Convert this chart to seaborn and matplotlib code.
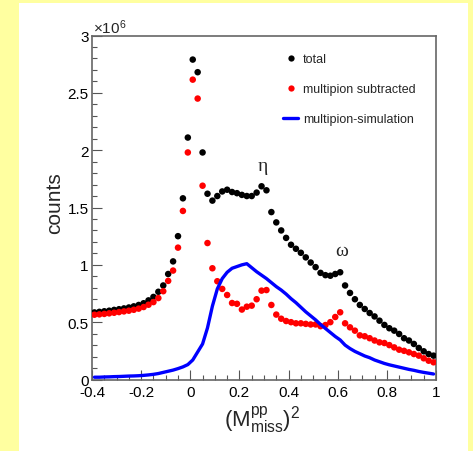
import numpy as np
import pandas as pd
import matplotlib
matplotlib.use('Agg')
import matplotlib.pyplot as plt
import seaborn as sns
from matplotlib.patches import Rectangle
from matplotlib.lines import Line2D
from matplotlib.ticker import FixedLocator, FixedFormatter, MultipleLocator

# ---------------- data (counts in units of 10^6) ----------------
x_bins = [-0.39, -0.37, -0.35, -0.33, -0.31, -0.29, -0.27, -0.25, -0.23, -0.21,
          -0.19, -0.17, -0.15, -0.13, -0.11, -0.09, -0.07, -0.05, -0.03, -0.01,
          0.01, 0.03, 0.05, 0.07, 0.09, 0.11, 0.13, 0.15, 0.17, 0.19,
          0.21, 0.23, 0.25, 0.27, 0.29, 0.31, 0.33, 0.35, 0.37, 0.39,
          0.41, 0.43, 0.45, 0.47, 0.49, 0.51, 0.53, 0.55, 0.57, 0.59,
          0.61, 0.63, 0.65, 0.67, 0.69, 0.71, 0.73, 0.75, 0.77, 0.79,
          0.81, 0.83, 0.85, 0.87, 0.89, 0.91, 0.93, 0.95, 0.97, 0.99]

total = [0.585, 0.59, 0.595, 0.60, 0.607, 0.613, 0.62, 0.628, 0.638, 0.65,
         0.665, 0.69, 0.72, 0.765, 0.82, 0.92, 1.03, 1.25, 1.58, 2.11,
         2.79, 2.68, 1.98, 1.62, 1.56, 1.60, 1.64, 1.655, 1.635, 1.625,
         1.61, 1.60, 1.60, 1.63, 1.685, 1.65, 1.46, 1.37, 1.30, 1.235,
         1.175, 1.14, 1.105, 1.065, 1.02, 0.98, 0.93, 0.91, 0.905, 0.92,
         0.935, 0.82, 0.755, 0.70, 0.65, 0.615, 0.58, 0.55, 0.513, 0.476,
         0.447, 0.426, 0.397, 0.36, 0.34, 0.31, 0.275, 0.246, 0.222, 0.208]

subtracted = [0.565, 0.568, 0.572, 0.577, 0.582, 0.588, 0.594, 0.60, 0.608, 0.618,
              0.632, 0.652, 0.675, 0.71, 0.77, 0.86, 0.95, 1.15, 1.47, 1.98,
              2.615, 2.45, 1.69, 1.19, 0.97, 0.857, 0.79, 0.737, 0.667, 0.66,
              0.61, 0.635, 0.644, 0.70, 0.775, 0.78, 0.65, 0.566, 0.53, 0.51,
              0.50, 0.49, 0.49, 0.485, 0.48, 0.48, 0.465, 0.475, 0.50, 0.545,
              0.586, 0.49, 0.455, 0.426, 0.385, 0.377, 0.36, 0.34, 0.324, 0.318,
              0.30, 0.28, 0.26, 0.25, 0.237, 0.222, 0.208, 0.185, 0.164, 0.15]

simulation = [0.02, 0.02, 0.022, 0.023, 0.025, 0.026, 0.028, 0.03, 0.031, 0.033,
              0.036, 0.04, 0.045, 0.052, 0.062, 0.072, 0.082, 0.095, 0.11, 0.13,
              0.17, 0.24, 0.31, 0.45, 0.64, 0.79, 0.88, 0.935, 0.97, 0.985,
              1.0, 1.01, 0.975, 0.94, 0.91, 0.88, 0.845, 0.81, 0.78, 0.745,
              0.705, 0.67, 0.63, 0.59, 0.555, 0.52, 0.48, 0.445, 0.41, 0.375,
              0.345, 0.30, 0.27, 0.245, 0.225, 0.205, 0.19, 0.17, 0.155, 0.14,
              0.128, 0.118, 0.108, 0.098, 0.088, 0.08, 0.07, 0.062, 0.055, 0.048]

series_names = ['total', 'multipion subtracted', 'multipion-simulation']
xtick_values = [-0.4, -0.2, 0.0, 0.2, 0.4, 0.6, 0.8, 1.0]
xtick_labels = ['-0.4', '-0.2', '0', '0.2', '0.4', '0.6', '0.8', '1']
ytick_values = [0, 0.5, 1, 1.5, 2, 2.5, 3]
ytick_labels = ['0', '0.5', '1', '1.5', '2', '2.5', '3']

# ---------------- style ----------------
sns.set_style('white')
plt.rcParams['font.family'] = ['Liberation Sans', 'DejaVu Sans']
plt.rcParams['mathtext.fontset'] = 'custom'
plt.rcParams['mathtext.rm'] = 'Liberation Sans'
plt.rcParams['mathtext.it'] = 'Liberation Sans:italic'
plt.rcParams['mathtext.bf'] = 'Liberation Sans:bold'

W, H = 473, 452
fig = plt.figure(figsize=(W / 100, H / 100), dpi=100)
fig.patch.set_facecolor('#FFFFA0')
fig.patches.append(Rectangle((19 / W, 0), 449 / W, 448 / H, transform=fig.transFigure,
                             facecolor='white', edgecolor='none', zorder=-10))

ax = fig.add_axes([92 / W, 71.5 / H, 344 / W, 344 / H])
ax.set_facecolor('white')

df_pts = pd.DataFrame({
    'x': x_bins + x_bins,
    'counts': total + subtracted,
    'series': [series_names[0]] * len(x_bins) + [series_names[1]] * len(x_bins),
})
sns.scatterplot(data=df_pts, x='x', y='counts', hue='series',
                palette={series_names[0]: 'black', series_names[1]: '#ff0000'},
                s=22, linewidth=0, ax=ax, legend=False, zorder=3)

df_sim = pd.DataFrame({'x': x_bins, 'counts': simulation})
sns.lineplot(data=df_sim, x='x', y='counts', color='#0000ff', lw=2.4,
             ax=ax, legend=False, zorder=4, estimator=None)

ax.set_xlim(-0.4, 1.0)
ax.set_ylim(0, 3)

ax.xaxis.set_major_locator(FixedLocator(xtick_values))
ax.xaxis.set_major_formatter(FixedFormatter(xtick_labels))
ax.xaxis.set_minor_locator(MultipleLocator(0.05))
ax.yaxis.set_major_locator(FixedLocator(ytick_values))
ax.yaxis.set_major_formatter(FixedFormatter(ytick_labels))
ax.yaxis.set_minor_locator(MultipleLocator(0.1))

ax.tick_params(which='both', direction='in', bottom=True, left=True, top=False,
               right=False, color='#555555', width=0.8, labelsize=11, labelcolor='black')
ax.tick_params(which='major', length=7.2)
ax.tick_params(which='minor', length=3.6)
ax.tick_params(axis='x', which='major', pad=4)
ax.tick_params(axis='y', which='major', pad=2.5)

for sp in ax.spines.values():
    sp.set_visible(True)
    sp.set_color('#666666')
    sp.set_linewidth(1.2)

ax.set_ylabel('counts', fontsize=15)
ax.yaxis.label.set_verticalalignment('center')
ax.yaxis.set_label_coords(-0.11, 0.517)

ax.set_xlabel(r'$(\mathrm{M}^{\mathrm{pp}}_{\mathrm{miss}})^{2}$', fontsize=16)
ax.xaxis.label.set_verticalalignment('top')
ax.xaxis.set_label_coords(0.494, -0.072)

ax.text(0.004, 1.008, '×10$^{6}$', transform=ax.transAxes, fontsize=11,
        ha='left', va='baseline')

ax.text(0.296, 1.87, 'η', fontsize=14, family=['Liberation Serif', 'DejaVu Serif'],
        ha='center', va='center')
ax.text(0.616, 1.124, 'ω', fontsize=14, family=['Liberation Serif', 'DejaVu Serif'],
        ha='center', va='center')

handles = [
    Line2D([], [], ls='none', marker='o', ms=4.5, mfc='black', mec='none'),
    Line2D([], [], ls='none', marker='o', ms=4.5, mfc='#ff0000', mec='none'),
    Line2D([], [], color='#0000ff', lw=2.4),
]
ax.legend(handles, series_names, loc='upper left',
          bbox_to_anchor=(283 / W, 1 - 54 / H), bbox_transform=fig.transFigure,
          frameon=False, fontsize=9, handlelength=1.2, handletextpad=0.4,
          labelspacing=1.45, borderpad=0, borderaxespad=0)

fig.savefig('out.png', dpi=100)
